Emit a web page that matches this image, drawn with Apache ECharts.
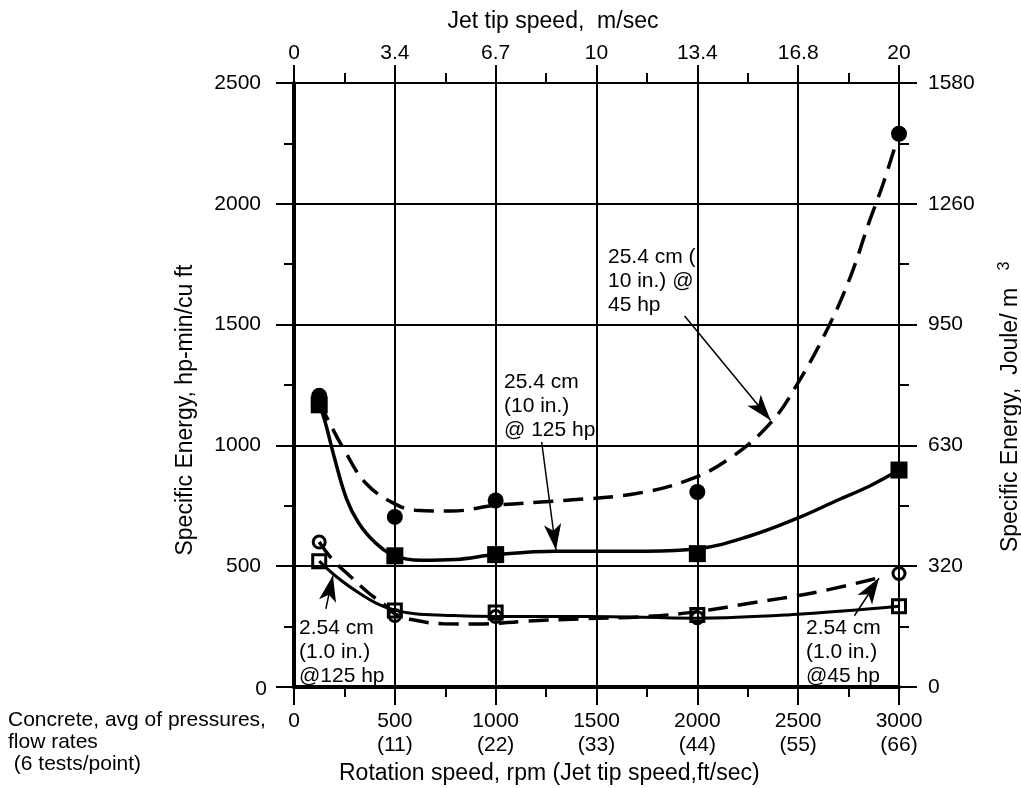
<!DOCTYPE html>
<html>
<head>
<meta charset="utf-8">
<script src="https://cdn.jsdelivr.net/npm/echarts@6/dist/echarts.min.js"></script>
<style>
  html, body { margin: 0; background: #fff; }
  #chart { width: 1021px; height: 788px; }
</style>
</head>
<body>
<div id="chart"></div>
<script>
// tick labels
const bottomTickLabels = ['0', '500\n(11)', '1000\n(22)', '1500\n(33)', '2000\n(44)', '2500\n(55)', '3000\n(66)'];
const topTickLabels = ['0', '3.4', '6.7', '10', '13.4', '16.8', '20'];
const leftTickLabels = ['0', '500', '1000', '1500', '2000', '2500'];
const rightTickLabels = ['0', '320', '630', '950', '1260', '1580'];

// measured points (rpm)
const rpmPoints = [125, 500, 1000, 2000, 3000];
const se10in45hp = [1205, 704, 772, 807, 2290];   // filled circles
const se10in125hp = [1168, 543, 548, 552, 898];   // filled squares
const se1in45hp = [600, 296, 292, 287, 470];      // open circles
const se1in125hp = [521, 317, 308, 298, 334];     // open squares

// hand drawn curves through the points
const fit10in45hpX = [125, 160, 250, 360, 500, 600, 780, 1000, 1340, 1690, 1950, 2150, 2360, 2500, 2650, 2760, 2850, 2920, 3000];
const fit10in45hpY = [1180, 1120, 980, 840, 758, 732, 728, 752, 772, 800, 855, 940, 1090, 1260, 1490, 1700, 1920, 2080, 2290];
const fit10in125hpX = [125, 150, 200, 260, 320, 400, 500, 630, 800, 1000, 1300, 1750, 2000, 2260, 2500, 2700, 2850, 3000];
const fit10in125hpY = [1168, 1110, 950, 780, 680, 600, 543, 525, 528, 548, 562, 562, 572, 625, 700, 775, 830, 898];
const fit1in45hpX = [125, 190, 270, 370, 450, 500, 590, 740, 940, 1140, 1450, 1750, 2000, 2260, 2570, 2885];
const fit1in45hpY = [600, 528, 465, 389, 340, 303, 278, 262, 261, 272, 283, 292, 312, 347, 389, 449];
const fit1in125hpX = [125, 220, 330, 420, 500, 600, 740, 1000, 1450, 2000, 2460, 3000];
const fit1in125hpY = [521, 450, 385, 342, 318, 303, 297, 292, 292, 285, 299, 334];

// callout arrows, data units
const arrowFrom = [[1937, 1536], [1228, 1014], [158, 323], [2779, 295]];
const arrowTo = [[2363, 1104], [1299, 567], [193, 461], [2901, 451]];

const FONT = '"Liberation Sans", Arial, sans-serif';
const zip = (xs, ys) => xs.map((x, i) => [x, ys[i]]);

const chart = echarts.init(document.getElementById('chart'));

const tickStyle = { show: true, length: 18, lineStyle: { color: '#000', width: 2 } };
const minorStyle = { show: true, splitNumber: 2, length: 10, lineStyle: { color: '#000', width: 2 } };
const labelBase = { color: '#000', fontSize: 21, fontFamily: FONT };

function curve(xs, ys, dashed, width) {
  return {
    type: 'line',
    data: zip(xs, ys),
    showSymbol: false,
    symbol: 'none',
    smooth: 0.4,
    lineStyle: { color: '#000', width: width, type: dashed ? [20, 10] : 'solid', opacity: 1 },
    z: 3
  };
}

function points(ys, symbol, size, filled) {
  return {
    type: 'scatter',
    data: zip(rpmPoints, ys),
    symbol: symbol,
    symbolSize: size,
    itemStyle: filled
      ? { color: '#000', opacity: 1 }
      : { color: 'rgba(0,0,0,0)', borderColor: '#000', borderWidth: 3, opacity: 1 },
    z: 5
  };
}

function note(text, x, y) {
  return {
    type: 'text', x: x, y: y,
    style: { text: text, fill: '#000', font: '21px ' + FONT, lineHeight: 24, align: 'left', verticalAlign: 'top' }
  };
}

const option = {
  animation: false,
  grid: { left: 294, right: 122, top: 83, bottom: 101, containLabel: false, outerBoundsMode: 'none' },
  xAxis: [
    {
      type: 'value', position: 'bottom', min: 0, max: 3000, interval: 500,
      axisLine: { show: true, onZero: false, lineStyle: { color: '#000', width: 4 } },
      axisTick: tickStyle, minorTick: minorStyle,
      splitLine: { show: true, lineStyle: { color: '#000', width: 2 } },
      axisLabel: Object.assign({ margin: 22, lineHeight: 24, formatter: v => bottomTickLabels[v / 500] }, labelBase)
    },
    {
      type: 'value', position: 'top', min: 0, max: 3000, interval: 500,
      axisLine: { show: true, onZero: false, lineStyle: { color: '#000', width: 2 } },
      axisTick: tickStyle, minorTick: minorStyle,
      splitLine: { show: false },
      axisLabel: Object.assign({ margin: 18, lineHeight: 24, formatter: v => topTickLabels[v / 500] }, labelBase)
    }
  ],
  yAxis: [
    {
      type: 'value', position: 'left', min: 0, max: 2500, interval: 500,
      axisLine: { show: true, onZero: false, lineStyle: { color: '#000', width: 4 } },
      axisTick: tickStyle, minorTick: minorStyle,
      splitLine: { show: true, lineStyle: { color: '#000', width: 2 } },
      axisLabel: Object.assign({ margin: 33, showMinLabel: false, formatter: v => leftTickLabels[v / 500] }, labelBase)
    },
    {
      type: 'value', position: 'right', min: 0, max: 2500, interval: 500,
      axisLine: { show: true, onZero: false, lineStyle: { color: '#000', width: 2 } },
      axisTick: tickStyle, minorTick: minorStyle,
      splitLine: { show: false },
      axisLabel: Object.assign({ margin: 29, formatter: v => rightTickLabels[v / 500] }, labelBase)
    }
  ],
  series: [
    curve(fit10in45hpX, fit10in45hpY, true, 3.5),
    curve(fit10in125hpX, fit10in125hpY, false, 3.5),
    curve(fit1in45hpX, fit1in45hpY, true, 3.5),
    curve(fit1in125hpX, fit1in125hpY, false, 3),
    points(se10in45hp, 'circle', 16, true),
    points(se10in125hp, 'rect', 17, true),
    points(se1in45hp, 'circle', 12, false),
    points(se1in125hp, 'rect', 13, false),
    {
      type: 'line',
      data: [],
      markLine: {
        silent: true,
        animation: false,
        symbol: ['none', 'arrow'],
        symbolSize: [13, 26],
        label: { show: false },
        lineStyle: { color: '#000', width: 1.5, type: 'solid', opacity: 1 },
        emphasis: { disabled: true },
        data: arrowFrom.map((f, i) => [{ coord: f }, { coord: arrowTo[i] }])
      }
    }
  ],
  graphic: [
    { type: 'text', x: 553, y: 22,
      style: { text: 'Jet tip speed,  m/sec', fill: '#000', font: '23px ' + FONT, align: 'center', verticalAlign: 'middle' } },
    { type: 'text', x: 339, y: 774,
      style: { text: 'Rotation speed, rpm (Jet tip speed,ft/sec)', fill: '#000', font: '23px ' + FONT, align: 'left', verticalAlign: 'middle' } },
    { type: 'text', x: 186, y: 410, rotation: Math.PI / 2,
      style: { text: 'Specific Energy, hp-min/cu ft', fill: '#000', font: '23px ' + FONT, align: 'center', verticalAlign: 'middle' } },
    { type: 'text', x: 1011, y: 420, rotation: Math.PI / 2,
      style: { text: 'Specific Energy,  Joule/ m', fill: '#000', font: '23px ' + FONT, align: 'center', verticalAlign: 'middle' } },
    { type: 'text', x: 1005, y: 266, rotation: Math.PI / 2,
      style: { text: '3', fill: '#000', font: '16px ' + FONT, align: 'center', verticalAlign: 'middle' } },
    { type: 'text', x: 267, y: 689,
      style: { text: '0', fill: '#000', font: '21px ' + FONT, align: 'right', verticalAlign: 'middle' } },
    { type: 'text', x: 8, y: 709,
      style: { text: 'Concrete, avg of pressures,\nflow rates\n (6 tests/point)', fill: '#000', font: '21px ' + FONT, lineHeight: 22, align: 'left', verticalAlign: 'top' } },
    note('25.4 cm (\n10 in.) @\n45 hp', 608, 245),
    note('25.4 cm\n(10 in.)\n@ 125 hp', 504, 370),
    note('2.54 cm\n(1.0 in.)\n@125 hp', 299, 616),
    note('2.54 cm\n(1.0 in.)\n@45 hp', 806, 616)
  ]
};

chart.setOption(option);
</script>
</body>
</html>
